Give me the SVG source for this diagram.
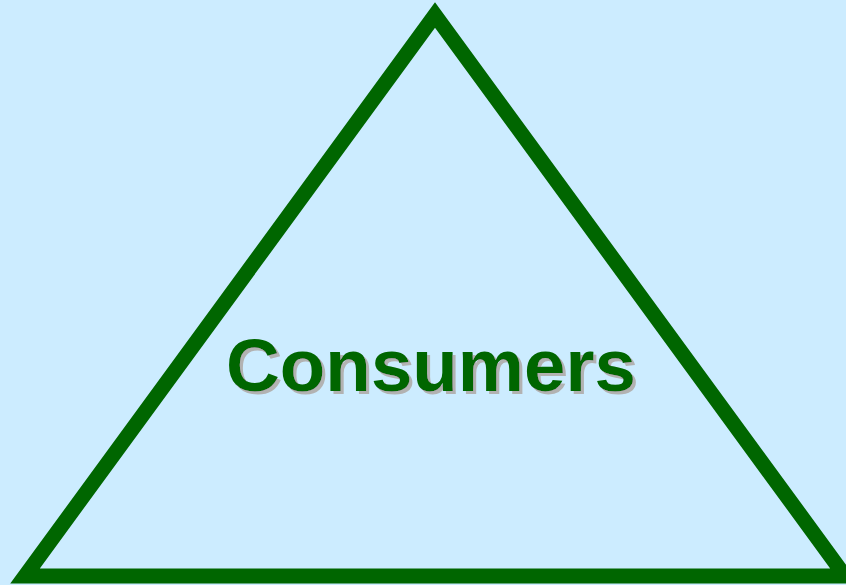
<svg xmlns="http://www.w3.org/2000/svg" width="846" height="585" viewBox="0 0 846 585">
<style>
.lbl{font-family:"Liberation Sans",Arial,sans-serif;font-weight:bold;font-size:74.5px;text-anchor:middle;fill:#006600}
</style>
<defs>
<filter id="shadow" x="-5%" y="-20%" width="110%" height="140%">
<feOffset in="SourceAlpha" dx="3" dy="3" result="off"/>
<feFlood flood-color="#B2B2B2"/>
<feComposite in2="off" operator="in" result="sh"/>
<feMerge><feMergeNode in="sh"/><feMergeNode in="SourceGraphic"/></feMerge>
</filter>
</defs>
<rect width="846" height="585" fill="#CCECFF"/>
<g id="triangle">
<polygon points="435,15 25,576 845,576" fill="none" stroke="#006600" stroke-width="15" stroke-linejoin="miter" stroke-miterlimit="10"/>
</g>
<g id="connectors"></g>
<g id="label">
<text class="lbl" x="431" y="391" filter="url(#shadow)">Consumers</text>
</g>
</svg>
